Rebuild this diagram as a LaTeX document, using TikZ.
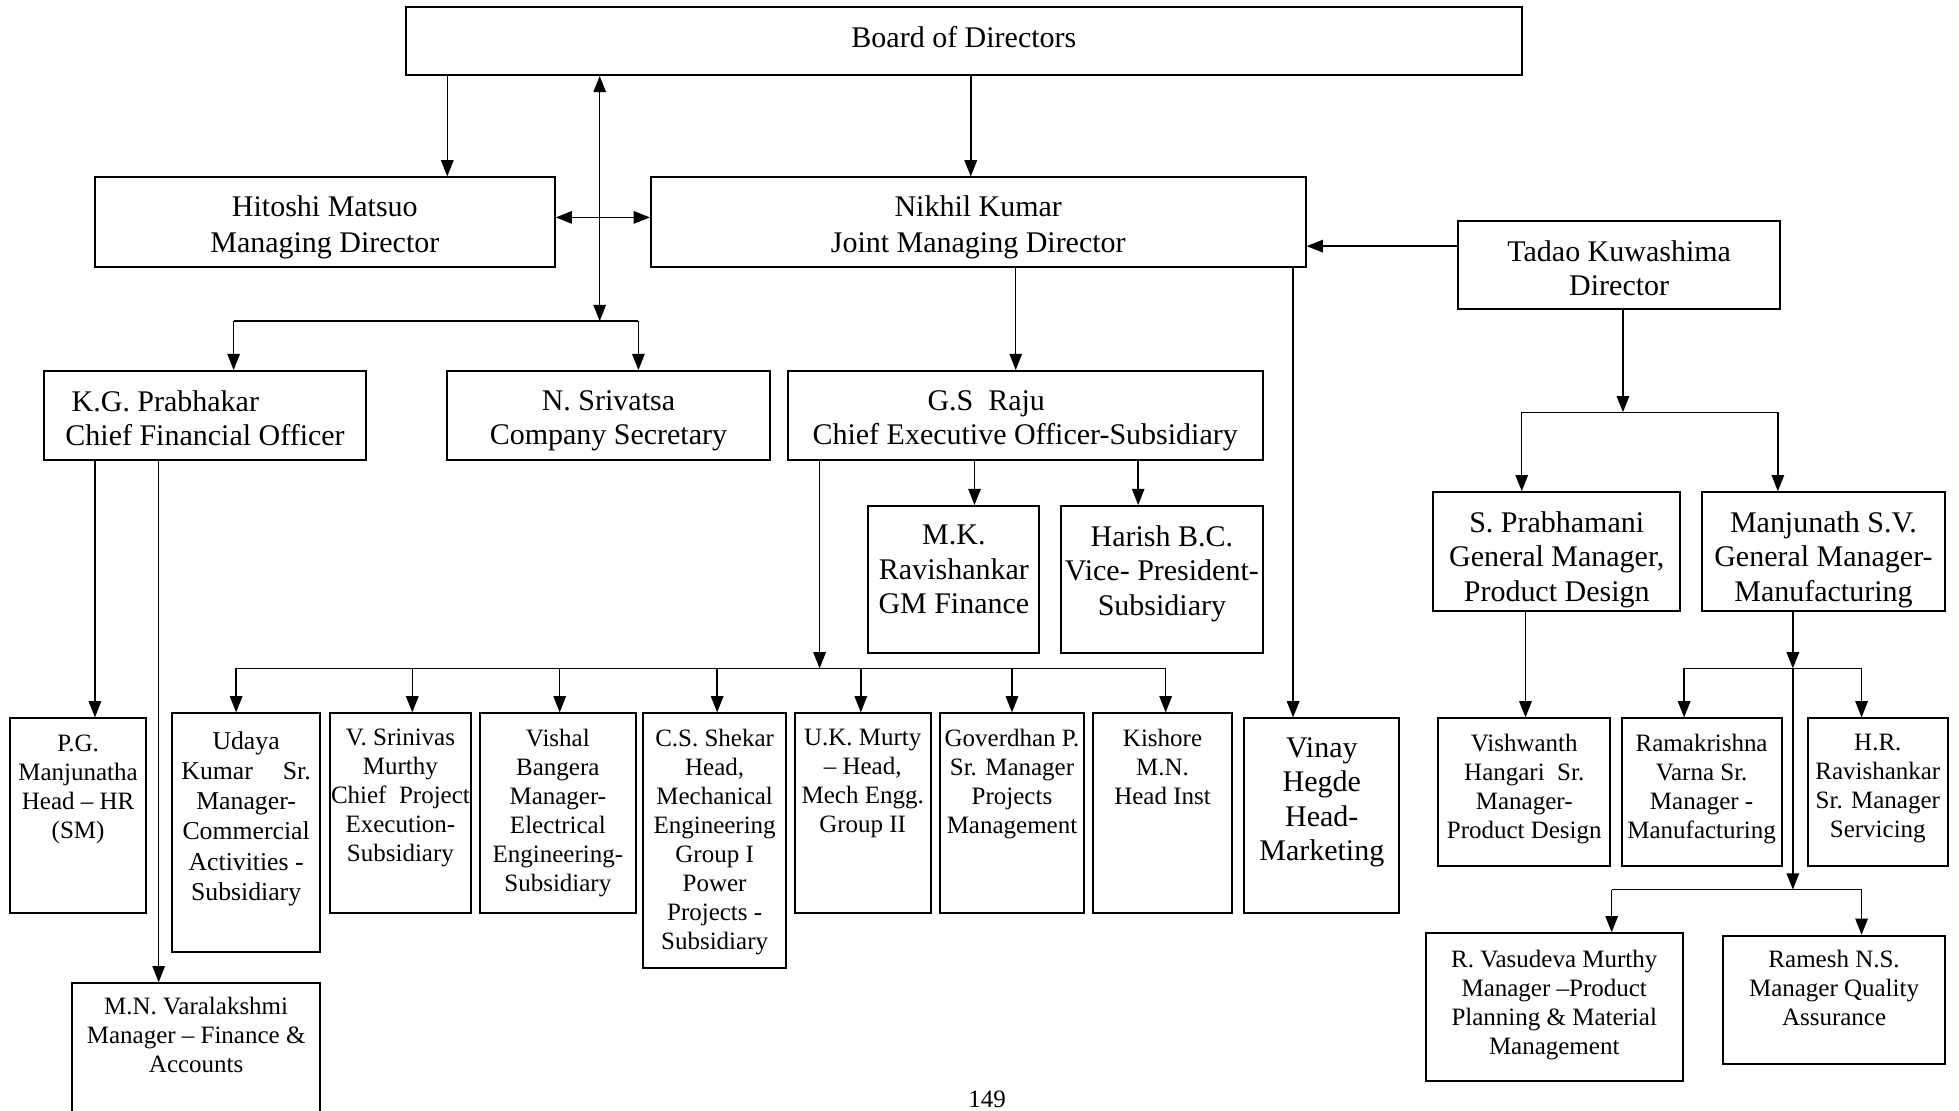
\documentclass[tikz,border=0pt]{standalone}
\usepackage{fontspec}
\setmainfont{Liberation Serif}
\usetikzlibrary{arrows.meta,fit}
\newcommand\orgbox[8]{%
  \node[boxst, fit={(#2,#3) (#4,#5)}] (#1) {};
  \node[txt,#7] (#1t) at ({(#2+#4)/2},#6) {#8};}
\begin{document}
\begin{tikzpicture}[x=0.5pt,y=-0.5pt,
  boxst/.style={draw, line width=0.8pt, inner sep=0pt},
  big/.style={font=\fontsize{12}{13.8}\selectfont},
  sml/.style={font=\fontsize{10}{11.6}\selectfont},
  txt/.style={align=center, inner sep=0pt, anchor=north},
  con/.style={line width=0.6pt},
  arr/.style={con, -{Triangle[length=6.5pt,width=5pt]}},
  darr/.style={con, {Triangle[length=6.5pt,width=5pt]}-{Triangle[length=6.5pt,width=5pt]}}]
\useasboundingbox (0,0) rectangle (1568,889);
\clip (0,0) rectangle (1568,889);

% ---- boxes ----
\orgbox{board}{325}{6}{1218}{60}{21}{big}{Board of Directors}
\orgbox{hit}{76}{142}{444}{214}{156}{big,font=\fontsize{12}{14.5}\selectfont}{Hitoshi Matsuo\\Managing Director}
\orgbox{nik}{521}{142}{1045}{214}{156}{big,font=\fontsize{12}{14.5}\selectfont}{Nikhil Kumar\\Joint Managing Director}
\orgbox{tad}{1167}{177}{1425}{247}{192}{big}{Tadao Kuwashima\\Director}
\node[boxst, fit={(35,297) (293,368)}] (kg) {};
\node[txt, big, align=left, anchor=north west] (kgt) at (52,312) {\hspace*{2.5pt}K.G. Prabhakar\\Chief Financial Officer};
\orgbox{sri}{358}{297}{616}{368}{312}{big}{N. Srivatsa\\Company Secretary}
\node[boxst, fit={(631,297) (1011,368)}] (gs) {};
\node[txt, big, align=left, anchor=north west] (gst) at (650,312) {\hspace*{46pt}G.S\ \ Raju\\Chief Executive Officer-Subsidiary};
\orgbox{mk}{695}{405}{832}{523}{420}{big}{M.K.\\Ravishankar\\GM Finance}
\orgbox{har}{849}{405}{1011}{523}{420}{big}{Harish B.C.\\Vice- President-\\Subsidiary}
\orgbox{sp}{1147}{394}{1345}{489}{409}{big}{S. Prabhamani\\General Manager,\\Product Design}
\orgbox{mj}{1362}{394}{1557}{489}{409}{big}{Manjunath S.V.\\General Manager-\\Manufacturing}

\orgbox{pg}{8}{575}{117}{731}{588}{sml}{P.G.\\Manjunatha\\Head -- HR\\(SM)}
\orgbox{ud}{138}{571}{256}{762}{585}{font=\fontsize{10.3}{12.1}\selectfont}{Udaya\\Kumar\hspace{12pt}Sr.\\Manager-\\Commercial\\Activities -\\Subsidiary}
\orgbox{vs}{264}{571}{377}{731}{583}{sml}{V. Srinivas\\Murthy\\Chief~ Project\\Execution-\\Subsidiary}
\orgbox{vb}{384}{571}{509}{731}{583}{sml}{Vishal\\Bangera\\Manager-\\Electrical\\Engineering-\\Subsidiary}
\orgbox{cs}{515}{571}{629}{775}{583}{sml}{C.S. Shekar\\Head,\\Mechanical\\Engineering\\Group I\\Power\\Projects -\\Subsidiary}
\orgbox{uk}{636}{571}{745}{731}{583}{sml}{U.K. Murty\\-- Head,\\Mech Engg.\\Group II}
\orgbox{gp}{752}{571}{868}{731}{583}{sml}{Goverdhan P.\\Sr. Manager\\Projects\\Management}
\orgbox{ks}{875}{571}{986}{731}{583}{sml}{Kishore\\M.N.\\Head Inst}
\orgbox{vh}{996}{575}{1120}{731}{590}{big}{Vinay\\Hegde\\Head-\\Marketing}
\orgbox{vw}{1151}{575}{1289}{693}{587}{sml}{Vishwanth\\Hangari~ Sr.\\Manager-\\Product Design}
\orgbox{rk}{1298}{575}{1426}{693}{587}{sml}{Ramakrishna\\Varna Sr.\\Manager -\\Manufacturing}
\orgbox{hr}{1447}{575}{1559}{693}{587}{sml}{H.R.\\Ravishankar\\Sr. Manager\\Servicing}
\orgbox{rv}{1141}{747}{1347}{865}{760}{sml}{R. Vasudeva Murthy\\Manager --Product\\Planning \& Material\\Management}
\orgbox{rm}{1379}{749}{1557}{852}{760}{sml}{Ramesh N.S.\\Manager Quality\\Assurance}
\orgbox{mn}{58}{787}{256}{930}{798}{sml}{M.N. Varalakshmi\\Manager -- Finance \&\\Accounts}
\node[txt, sml] (pgno) at (790,873) {149};

% ---- connectors ----
\coordinate (xa) at (358,0);
\coordinate (xb) at (777,0);
\draw[arr] (board.south -| xa) -- (hit.north -| xa);
\draw[arr] (board.south -| xb) -- (nik.north -| xb);

\coordinate (j1) at (480,257);
\coordinate (j1l) at (187,257);
\coordinate (j1r) at (511,257);
\draw[darr] (j1) -- (board.south -| j1);
\draw[con] (j1l) -- (j1r);
\draw[arr] (j1l) -- (kg.north -| j1l);
\draw[arr] (j1r) -- (sri.north -| j1r);

\coordinate (yh) at (0,174);
\draw[darr] (hit.east |- yh) -- (nik.west |- yh);

\coordinate (xc) at (813,0);
\coordinate (xd) at (1035,0);
\draw[arr] (nik.south -| xc) -- (gs.north -| xc);
\draw[arr] (nik.south -| xd) -- (vh.north -| xd);

\coordinate (yt) at (0,197);
\draw[arr] (tad.west |- yt) -- (nik.east |- yt);

\coordinate (j2) at (1299,330);
\coordinate (j2l) at (1218,330);
\coordinate (j2r) at (1423,330);
\draw[arr] (tad.south -| j2) -- (j2);
\draw[con] (j2l) -- (j2r);
\draw[arr] (j2l) -- (sp.north -| j2l);
\draw[arr] (j2r) -- (mj.north -| j2r);

\coordinate (xe) at (76,0);
\coordinate (xf) at (127,0);
\draw[arr] (kg.south -| xe) -- (pg.north -| xe);
\draw[arr] (kg.south -| xf) -- (mn.north -| xf);

\coordinate (xg) at (780,0);
\coordinate (xh) at (911,0);
\draw[arr] (gs.south -| xg) -- (mk.north -| xg);
\draw[arr] (gs.south -| xh) -- (har.north -| xh);

\coordinate (j3) at (656,535);
\coordinate (j3l) at (189,535);
\coordinate (j3r) at (933,535);
\draw[arr] (gs.south -| j3) -- (j3);
\draw[con] (j3l) -- (j3r);
\foreach \xx/\tg in {189/ud,330/vs,448/vb,574/cs,689/uk,810/gp,933/ks}
  \draw[arr] (\xx,535) -- (\tg.north -| \xx,0);

\coordinate (xi) at (1221,0);
\draw[arr] (sp.south -| xi) -- (vw.north -| xi);

\coordinate (j4) at (1435,535);
\coordinate (j4l) at (1348,535);
\coordinate (j4r) at (1490,535);
\draw[arr] (mj.south -| j4) -- (j4);
\draw[con] (j4l) -- (j4r);
\draw[arr] (j4l) -- (rk.north -| j4l);
\draw[arr] (j4r) -- (hr.north -| j4r);

\coordinate (j5) at (1435,712);
\coordinate (j5l) at (1290,712);
\coordinate (j5r) at (1490,712);
\draw[arr] (j4) -- (j5);
\draw[con] (j5l) -- (j5r);
\draw[arr] (j5l) -- (rv.north -| j5l);
\draw[arr] (j5r) -- (rm.north -| j5r);
\end{tikzpicture}
\end{document}
